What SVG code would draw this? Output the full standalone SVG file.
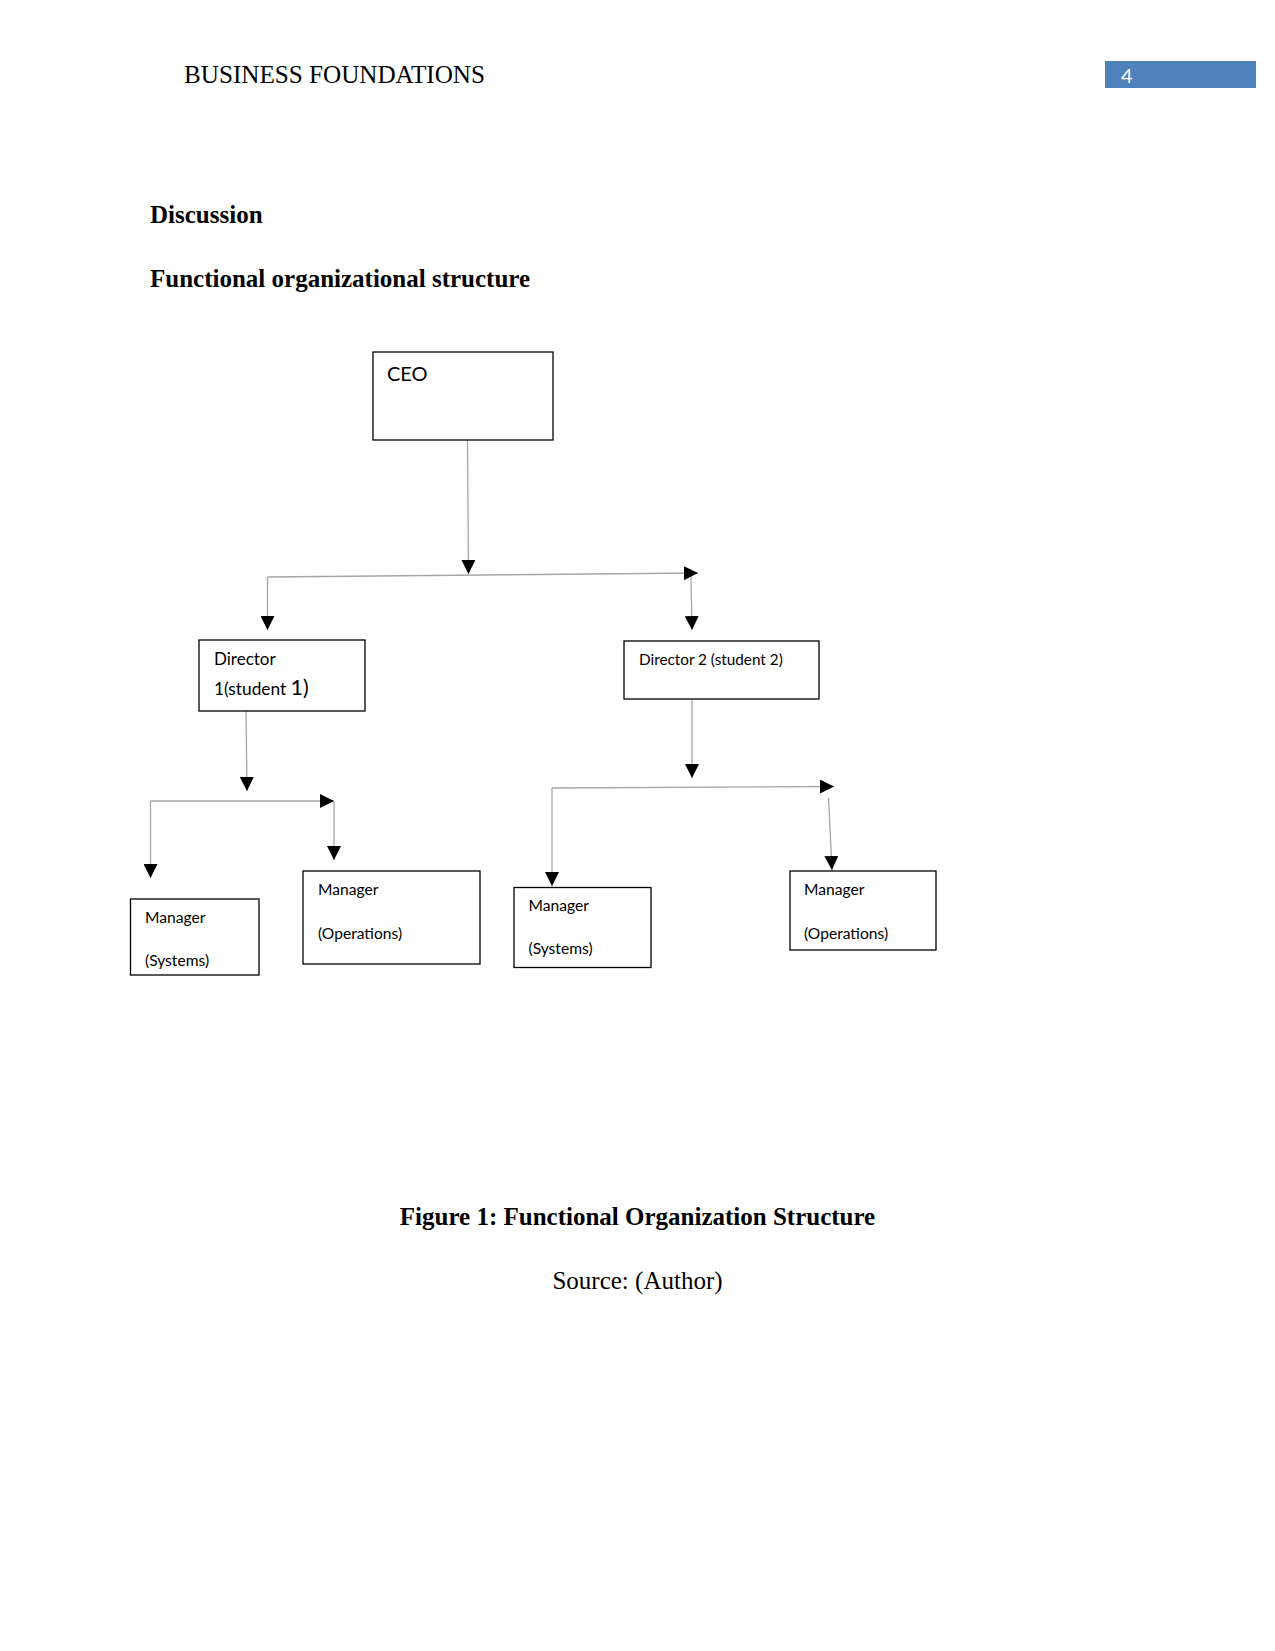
<svg xmlns="http://www.w3.org/2000/svg" width="1275" height="1651" viewBox="0 0 1275 1651">
<style>
.hdr{font-family:"Liberation Serif",serif;font-size:25px;fill:#000}
.h{font-family:"Liberation Serif",serif;font-size:25px;font-weight:bold;fill:#000}
.box{fill:#fff;stroke:#000;stroke-width:1.3}
.t{font-family:Lato,"Noto Sans",sans-serif;fill:#000}
.c{fill:none;stroke:#a6a6a6;stroke-width:1.3}
</style>
<defs>
<marker id="ar" markerUnits="userSpaceOnUse" markerWidth="14" markerHeight="14" viewBox="0 0 12 12" refX="12" refY="6" orient="auto">
<path d="M0,0 L12,6 L0,12 Z" fill="#000"/>
</marker>
</defs>
<rect width="1275" height="1651" fill="#fff"/>
<g id="header">
<text class="hdr" x="184" y="83" textLength="301" lengthAdjust="spacingAndGlyphs">BUSINESS FOUNDATIONS</text>
<rect x="1105" y="61" width="151" height="27" fill="#4f81bd"/>
<text x="1121" y="83" font-family="Lato,sans-serif" font-size="20" fill="#fff">4</text>
</g>
<text class="h" x="150" y="223">Discussion</text>
<text class="h" x="150" y="287">Functional organizational structure</text>
<g id="connectors">
<path class="c" d="M467.5,440 L468.5,574" marker-end="url(#ar)"/>
<path class="c" d="M267.5,577 L698,573" marker-end="url(#ar)"/>
<path class="c" d="M267.5,577 L267.5,630" marker-end="url(#ar)"/>
<path class="c" d="M691,577 L692,630" marker-end="url(#ar)"/>
<path class="c" d="M246,711 L247,791" marker-end="url(#ar)"/>
<path class="c" d="M150.5,801 L334,801" marker-end="url(#ar)"/>
<path class="c" d="M150.5,801 L150.5,878" marker-end="url(#ar)"/>
<path class="c" d="M334,801 L334,860" marker-end="url(#ar)"/>
<path class="c" d="M692,699 L692,778" marker-end="url(#ar)"/>
<path class="c" d="M552,788 L834,786.5" marker-end="url(#ar)"/>
<path class="c" d="M552,788 L552,886" marker-end="url(#ar)"/>
<path class="c" d="M828.5,798 L832,870" marker-end="url(#ar)"/>
</g>
<g id="ceo">
<rect class="box" x="373" y="352" width="180" height="88"/>
<text class="t" x="387" y="381" font-size="20">CEO</text>
</g>
<g id="director1">
<rect class="box" x="199" y="640" width="166" height="71"/>
<text class="t" x="214" y="665" font-size="17">Director</text>
<text class="t" x="214" y="695" font-size="17.3">1(student <tspan font-size="21.5">1)</tspan></text>
</g>
<g id="director2">
<rect class="box" x="624" y="641" width="195" height="58"/>
<text class="t" x="639" y="665" font-size="15.3">Director 2 (student 2)</text>
</g>
<g id="mgr-sys-1">
<rect class="box" x="130.5" y="899" width="128.5" height="76"/>
<text class="t" x="145" y="923" font-size="15.6">Manager</text>
<text class="t" x="145" y="966" font-size="15.6">(Systems)</text>
</g>
<g id="mgr-ops-1">
<rect class="box" x="303" y="871" width="177" height="93"/>
<text class="t" x="318" y="895" font-size="15.6">Manager</text>
<text class="t" x="318" y="939" font-size="15.6">(Operations)</text>
</g>
<g id="mgr-sys-2">
<rect class="box" x="514" y="887.5" width="137" height="80"/>
<text class="t" x="528.5" y="911" font-size="15.6">Manager</text>
<text class="t" x="528.5" y="954" font-size="15.6">(Systems)</text>
</g>
<g id="mgr-ops-2">
<rect class="box" x="790" y="871" width="146" height="79"/>
<text class="t" x="804" y="895" font-size="15.6">Manager</text>
<text class="t" x="804" y="939" font-size="15.6">(Operations)</text>
</g>
<text class="h" x="637.5" y="1225" text-anchor="middle">Figure 1: Functional Organization Structure</text>
<text class="hdr" x="637.5" y="1289" text-anchor="middle">Source: (Author)</text>
</svg>
